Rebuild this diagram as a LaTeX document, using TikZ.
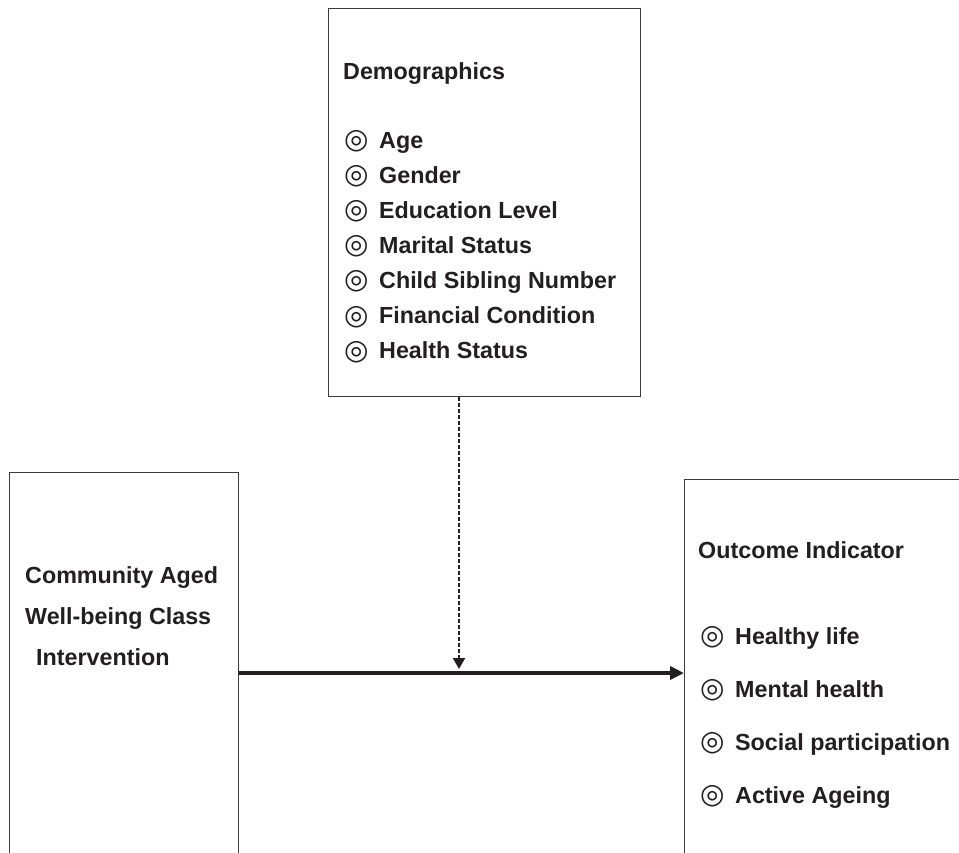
\documentclass[tikz,border=0pt]{standalone}
\usepackage{fontspec}
\setmainfont{Liberation Sans}
\newfontfamily\symfont{DejaVu Sans}
\usepackage{xcolor}
\usetikzlibrary{arrows.meta,positioning}
\definecolor{ink}{HTML}{231F20}
\definecolor{frame}{HTML}{3C3C3C}
\newcommand{\bull}{\makebox[35pt][l]{\raisebox{-0.5pt}{\symfont\fontsize{28}{30}\selectfont ◎}}}

\begin{document}
\begin{tikzpicture}[
    x=1pt,y=-1pt,
    box/.style={draw=frame,line width=1.4pt,anchor=north west,inner sep=0pt},
    txt/.style={anchor=base west,inner sep=0pt,text=ink,font=\fontsize{23.3}{28}\selectfont\bfseries},
    arrow/.style={-{Triangle[length=14pt,width=13pt]},line width=4.5pt,draw=ink},
    modarrow/.style={-{Triangle[length=11pt,width=12pt]},line width=2pt,draw=ink,dash pattern=on 4pt off 2pt}
  ]
  \useasboundingbox (0,0) rectangle (959,852);
  \clip (0,0) rectangle (959,852);

  % boxes
  \node[box,minimum width=312pt,minimum height=388pt] (demo) at (328,8) {};
  \node[box,minimum width=229pt,minimum height=420pt] (inter) at (9,472) {};
  \node[box,minimum width=320pt,minimum height=420pt] (outcome) at (684,479) {};

  % demographics
  \node[txt] (demohead) at (343,79) {Demographics};
  \node[txt] (d1) at (344,148) {\bull Age};
  \node[txt] (d2) at ([yshift=-35.1pt]d1.base west) {\bull Gender};
  \node[txt] (d3) at ([yshift=-35.1pt]d2.base west) {\bull Education Level};
  \node[txt] (d4) at ([yshift=-35.1pt]d3.base west) {\bull Marital Status};
  \node[txt] (d5) at ([yshift=-35.1pt]d4.base west) {\bull Child Sibling Number};
  \node[txt] (d6) at ([yshift=-35.1pt]d5.base west) {\bull Financial Condition};
  \node[txt] (d7) at ([yshift=-35.1pt]d6.base west) {\bull Health Status};

  % intervention
  \node[txt] (i1) at (25,583) {Community Aged};
  \node[txt] (i2) at ([yshift=-41pt]i1.base west) {Well-being Class};
  \node[txt] (i3) at ([xshift=11pt,yshift=-41pt]i2.base west) {Intervention};

  % outcome
  \node[txt] (outhead) at (698,558) {Outcome Indicator};
  \node[txt] (o1) at (700,644) {\bull Healthy life};
  \node[txt] (o2) at ([yshift=-53pt]o1.base west) {\bull Mental health};
  \node[txt] (o3) at ([yshift=-53pt]o2.base west) {\bull Social participation};
  \node[txt] (o4) at ([yshift=-53pt]o3.base west) {\bull Active Ageing};

  % connectors
  \coordinate (meet) at (459,673);
  \draw[arrow] (meet -| inter.east) -- (meet -| outcome.west);
  \draw[modarrow,shorten >=4pt] (demo.south -| meet) -- (meet);
\end{tikzpicture}
\end{document}
